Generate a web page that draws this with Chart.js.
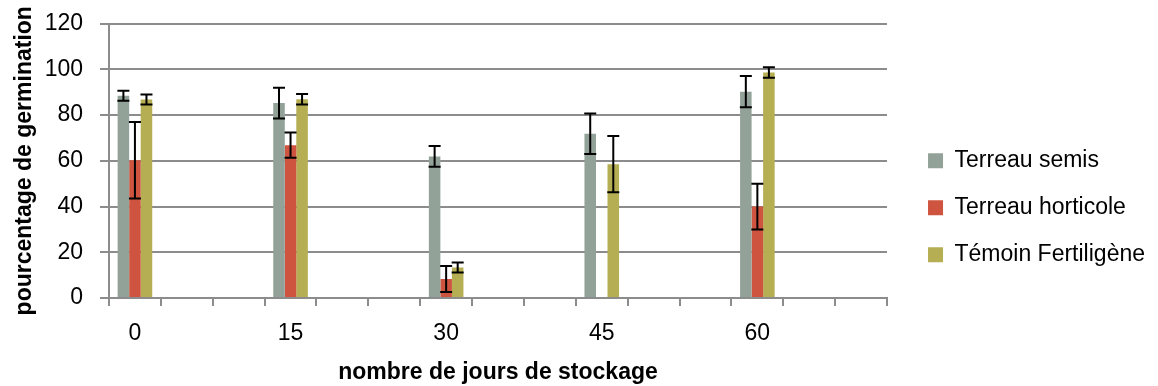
<!DOCTYPE html>
<html>
<head>
<meta charset="utf-8">
<script src="https://cdn.jsdelivr.net/npm/chart.js@4.4.0/dist/chart.umd.min.js"></script>
<style>
  html, body { margin: 0; padding: 0; background: #ffffff; }
  #wrap { width: 1158px; height: 386px; }
</style>
</head>
<body>
<div id="wrap"><canvas id="c" width="1158" height="386"></canvas></div>
<script>
// Category axis (days), labels shown every 3rd category
const dayLabels = ['0','5','10','15','20','25','30','35','40','45','50','55','60','65','70'];
const labelEvery = 3;
// Days where measurements exist
const sampleDays = ['0','15','30','45','60'];

const seriesNames = ['Terreau semis', 'Terreau horticole', 'Témoin Fertiligène'];

const semisValues     = [88.4, 85.2, 61.9, 71.8, 90.2];
const semisErrors     = [2.2, 6.7, 4.5, 8.9, 6.8];

const horticoleValues = [60.2, 66.8, 8.3, null, 40.0];
const horticoleErrors = [16.7, 5.5, 5.7, null, 10.0];

const temoinValues    = [86.8, 86.9, 13.3, 58.5, 98.6];
const temoinErrors    = [2.2, 2.3, 2.2, 12.3, 2.3];

const yTicks = [0, 20, 40, 60, 80, 100, 120];

const colors = ['#93A299', '#CF543F', '#B5AE53'];

function spread(vals) {
  return dayLabels.map(d => {
    const k = sampleDays.indexOf(d);
    return k < 0 ? null : vals[k];
  });
}

const FONT = "'Liberation Sans', Arial, sans-serif";
const GRID = '#8c8c8c';
const LEGEND_DX = 17;
const LEGEND_DY = 3;

const errorBarPlugin = {
  id: 'errorBars',
  afterDatasetsDraw(chart) {
    const ctx = chart.ctx;
    const yScale = chart.scales.y;
    chart.data.datasets.forEach((ds, i) => {
      const meta = chart.getDatasetMeta(i);
      if (meta.hidden) return;
      meta.data.forEach((bar, j) => {
        const v = ds.data[j];
        const e = ds.errors[j];
        if (v == null || e == null) return;
        const x = bar.x;
        const yt = yScale.getPixelForValue(v + e);
        const yb = yScale.getPixelForValue(v - e);
        const half = 6;
        ctx.save();
        ctx.strokeStyle = '#000000';
        ctx.lineWidth = 2;
        ctx.beginPath();
        ctx.moveTo(x, yt); ctx.lineTo(x, yb);
        ctx.moveTo(x - half, yt); ctx.lineTo(x + half, yt);
        ctx.moveTo(x - half, yb); ctx.lineTo(x + half, yb);
        ctx.stroke();
        ctx.restore();
      });
    });
  }
};

const legendOffsetPlugin = {
  id: 'legendOffset',
  afterLayout(chart) {
    const lg = chart.legend;
    if (lg) {
      lg.left += LEGEND_DX;
      lg.right = chart.width;
      lg.width = lg.right - lg.left;
      lg.top += LEGEND_DY;
      lg.bottom += LEGEND_DY;
    }
  }
};

new Chart(document.getElementById('c'), {
  type: 'bar',
  data: {
    labels: dayLabels,
    datasets: [
      { label: seriesNames[0], data: spread(semisValues), errors: spread(semisErrors), backgroundColor: colors[0] },
      { label: seriesNames[1], data: spread(horticoleValues), errors: spread(horticoleErrors), backgroundColor: colors[1] },
      { label: seriesNames[2], data: spread(temoinValues), errors: spread(temoinErrors), backgroundColor: colors[2] }
    ]
  },
  options: {
    responsive: false,
    animation: false,
    devicePixelRatio: 1,
    layout: { padding: { top: 23.5, left: 0, right: 20, bottom: 0 } },
    datasets: { bar: { categoryPercentage: 0.667, barPercentage: 1.0 } },
    plugins: {
      legend: {
        position: 'right',
        align: 'center',
        labels: {
          font: { family: FONT, size: 23 },
          color: '#000000',
          boxWidth: 15,
          boxHeight: 15,
          padding: 24
        }
      },
      tooltip: { enabled: false }
    },
    scales: {
      x: {
        afterFit: (axis) => { axis.height = 88; },
        grid: { drawOnChartArea: false, drawTicks: true, tickLength: 8, color: GRID, lineWidth: 2, offset: true },
        border: { color: GRID, width: 2 },
        ticks: {
          autoSkip: false, maxRotation: 0, padding: 14,
          font: { family: FONT, size: 23 }, color: '#000000',
          callback: (val, idx) => (idx % labelEvery === 0 ? dayLabels[idx] : '')
        },
        title: {
          display: true, text: 'nombre de jours de stockage',
          font: { family: FONT, size: 23, weight: 'bold', lineHeight: 1.0 },
          color: '#000000', padding: { top: 2, bottom: 1.5 }
        }
      },
      y: {
        min: 0, max: 120,
        afterBuildTicks: (axis) => { axis.ticks = yTicks.map(v => ({ value: v })); },
        afterFit: (axis) => { axis.width = 109; axis.paddingTop = 0; axis.paddingBottom = 0; },
        grid: { color: GRID, lineWidth: 2, tickLength: 9 },
        border: { color: GRID, width: 2 },
        ticks: { padding: 17, font: { family: FONT, size: 23 }, color: '#000000' },
        title: {
          display: true, text: 'pourcentage de germination',
          font: { family: FONT, size: 23, weight: 'bold', lineHeight: 1.0 },
          color: '#000000', padding: { top: 13.5, bottom: 2 }
        }
      }
    }
  },
  plugins: [errorBarPlugin, legendOffsetPlugin]
});
</script>
</body>
</html>
